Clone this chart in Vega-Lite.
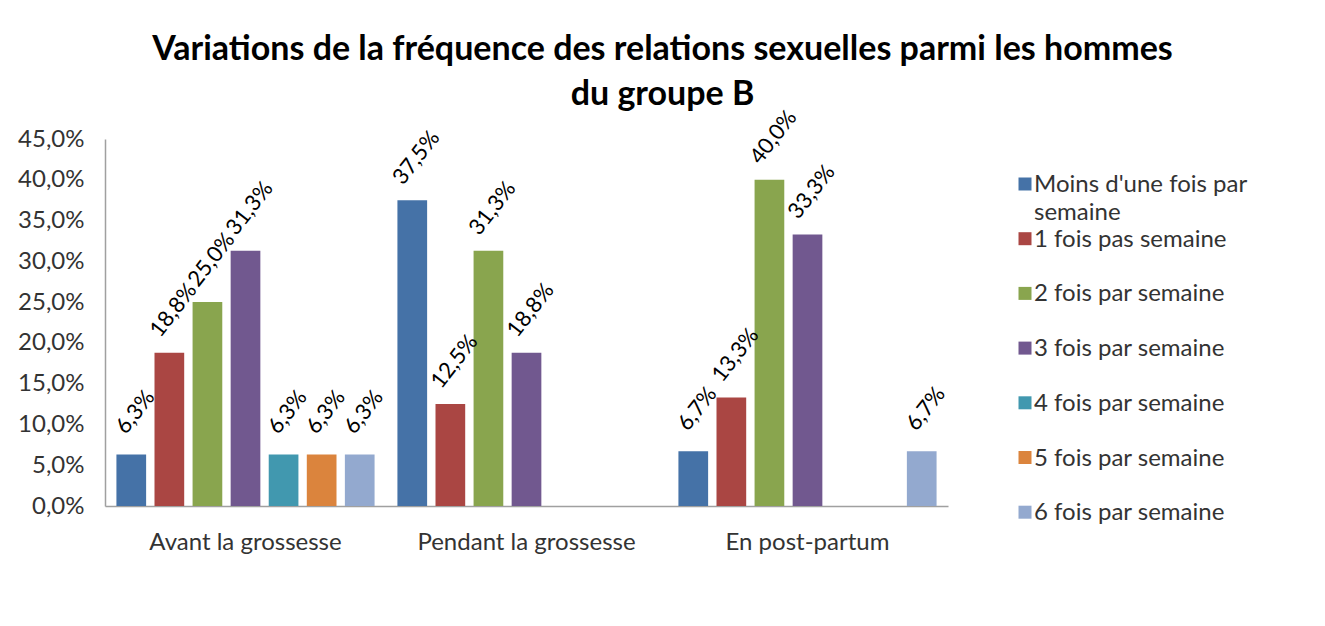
{
  "$schema": "https://vega.github.io/schema/vega-lite/v6.json",
  "width": 843,
  "height": 367,
  "padding": {"left": 17, "top": 33, "right": 10, "bottom": 10},
  "background": "white",
  "title": {
    "text": ["Variations de la fréquence des relations sexuelles parmi les hommes", "du groupe B"],
    "font": "Lato",
    "fontSize": 34,
    "fontWeight": "bold",
    "lineHeight": 45,
    "color": "#000000",
    "anchor": "middle",
    "frame": "group",
    "dx": 136,
    "offset": -6
  },
  "data": {
    "values": [
      {"periode": "Avant la grossesse", "frequence": "Moins d'une fois par semaine", "pourcentage": 0.063},
      {"periode": "Avant la grossesse", "frequence": "1 fois pas semaine", "pourcentage": 0.188},
      {"periode": "Avant la grossesse", "frequence": "2 fois par semaine", "pourcentage": 0.25},
      {"periode": "Avant la grossesse", "frequence": "3 fois par semaine", "pourcentage": 0.313},
      {"periode": "Avant la grossesse", "frequence": "4 fois par semaine", "pourcentage": 0.063},
      {"periode": "Avant la grossesse", "frequence": "5 fois par semaine", "pourcentage": 0.063},
      {"periode": "Avant la grossesse", "frequence": "6 fois par semaine", "pourcentage": 0.063},
      {"periode": "Pendant la grossesse", "frequence": "Moins d'une fois par semaine", "pourcentage": 0.375},
      {"periode": "Pendant la grossesse", "frequence": "1 fois pas semaine", "pourcentage": 0.125},
      {"periode": "Pendant la grossesse", "frequence": "2 fois par semaine", "pourcentage": 0.313},
      {"periode": "Pendant la grossesse", "frequence": "3 fois par semaine", "pourcentage": 0.188},
      {"periode": "En post-partum", "frequence": "Moins d'une fois par semaine", "pourcentage": 0.067},
      {"periode": "En post-partum", "frequence": "1 fois pas semaine", "pourcentage": 0.133},
      {"periode": "En post-partum", "frequence": "2 fois par semaine", "pourcentage": 0.4},
      {"periode": "En post-partum", "frequence": "3 fois par semaine", "pourcentage": 0.333},
      {"periode": "En post-partum", "frequence": "6 fois par semaine", "pourcentage": 0.067}
    ]
  },
  "encoding": {
    "x": {
      "field": "periode",
      "type": "nominal",
      "sort": ["Avant la grossesse", "Pendant la grossesse", "En post-partum"],
      "scale": {"paddingInner": 0, "paddingOuter": 0},
      "axis": {
        "title": null,
        "labelAngle": 0,
        "ticks": false,
        "labelPadding": 24,
        "labelLimit": 400,
        "labelFont": "Lato",
        "labelFontSize": 24,
        "labelColor": "#333333",
        "domainColor": "#A0A0A0",
        "domainWidth": 1.5,
        "grid": false
      }
    },
    "xOffset": {
      "field": "frequence",
      "type": "nominal",
      "scale": {
        "domain": ["Moins d'une fois par semaine", "1 fois pas semaine", "2 fois par semaine", "3 fois par semaine", "4 fois par semaine", "5 fois par semaine", "6 fois par semaine"],
        "paddingInner": 0.22,
        "paddingOuter": 0.3
      }
    },
    "y": {
      "field": "pourcentage",
      "type": "quantitative",
      "scale": {"domain": [0, 0.45], "nice": false},
      "axis": {
        "title": null,
        "values": [0, 0.05, 0.1, 0.15, 0.2, 0.25, 0.3, 0.35, 0.4, 0.45],
        "format": ".1%",
        "ticks": false,
        "grid": false,
        "labelPadding": 21,
        "labelFont": "Lato",
        "labelFontSize": 24,
        "labelColor": "#333333",
        "domainColor": "#A0A0A0",
        "domainWidth": 1.5
      }
    }
  },
  "layer": [
    {
      "mark": {"type": "bar"},
      "encoding": {
        "color": {
          "field": "frequence",
          "type": "nominal",
          "scale": {
            "domain": ["Moins d'une fois par semaine", "1 fois pas semaine", "2 fois par semaine", "3 fois par semaine", "4 fois par semaine", "5 fois par semaine", "6 fois par semaine"],
            "range": ["#4572A7", "#AA4643", "#89A54E", "#71588F", "#4198AF", "#DB843D", "#93A9CF"]
          },
          "legend": {
            "title": null,
            "orient": "none",
            "legendX": 908,
            "legendY": 33,
            "symbolType": "square",
            "symbolSize": 169,
            "symbolStrokeWidth": 0,
            "labelFont": "Lato",
            "labelFontSize": 24,
            "labelColor": "#333333",
            "labelLimit": 400,
            "labelOffset": -3,
            "labelBaseline": "alphabetic",
            "gridAlign": "all",
            "rowPadding": 1.7,
            "labelExpr": "datum.label === \"Moins d'une fois par semaine\" ? [\"Moins d'une fois par\", \"semaine\"] : datum.label",
            "encode": {
              "labels": {"update": {"dy": {"value": 8}, "lineHeight": {"value": 28}}}
            }
          }
        }
      }
    },
    {
      "mark": {"type": "text", "angle": -52, "align": "center", "baseline": "middle", "dx": 36, "dy": -23, "font": "Lato", "fontSize": 22, "color": "#000000"},
      "encoding": {
        "text": {"field": "pourcentage", "type": "quantitative", "format": ".1%"}
      }
    }
  ],
  "config": {
    "locale": {
      "number": {"decimal": ",", "thousands": " ", "grouping": [3], "currency": ["", " €"]}
    },
    "view": {"stroke": null}
  }
}
